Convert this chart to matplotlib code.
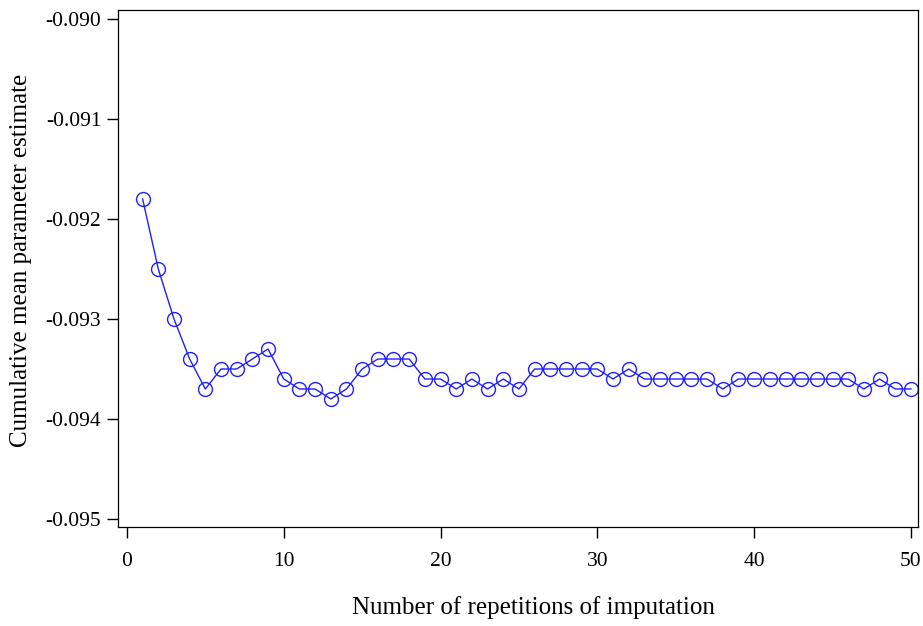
import matplotlib
matplotlib.use("Agg")
from matplotlib import pyplot as plt

# 数据
reps = list(range(1, 51))
cum_mean = [
    -0.0918, -0.0925, -0.0930, -0.0934, -0.0937, -0.0935, -0.0935, -0.0934, -0.0933, -0.0936,
    -0.0937, -0.0937, -0.0938, -0.0937, -0.0935, -0.0934, -0.0934, -0.0934, -0.0936, -0.0936,
    -0.0937, -0.0936, -0.0937, -0.0936, -0.0937, -0.0935, -0.0935, -0.0935, -0.0935, -0.0935,
    -0.0936, -0.0935, -0.0936, -0.0936, -0.0936, -0.0936, -0.0936, -0.0937, -0.0936, -0.0936,
    -0.0936, -0.0936, -0.0936, -0.0936, -0.0936, -0.0936, -0.0937, -0.0936, -0.0937, -0.0937,
]
x_ticks = [0, 10, 20, 30, 40, 50]
y_ticks = [-0.095, -0.094, -0.093, -0.092, -0.091, -0.090]

plt.rcParams['font.family'] = ['Liberation Serif', 'DejaVu Serif']

fig = plt.figure(figsize=(9.23, 6.26), dpi=100)
ax = fig.add_axes([118 / 923, 1 - 527 / 626, 800 / 923, 517 / 626])

ax.plot(reps, cum_mean, color='#1f1fff', linewidth=1.0, marker='o',
        markersize=10, markerfacecolor='none', markeredgecolor='#1f1fff',
        markeredgewidth=1.0)

ax.set_xlim(-0.57, 50.45)
ax.set_ylim(-0.09508, -0.08991)
ax.set_xticks(x_ticks)
ax.set_yticks(y_ticks)
ax.set_yticklabels(["%.3f" % v for v in y_ticks])
ax.tick_params(axis='both', direction='out', labelsize=15.5, length=8, width=1)
ax.tick_params(axis='x', pad=10)
ax.tick_params(axis='y', pad=4)

for s in ax.spines.values():
    s.set_linewidth(0.9)

ax.set_xlabel("Number of repetitions of imputation", fontsize=18, labelpad=18)
ax.set_ylabel("Cumulative mean parameter estimate", fontsize=18, labelpad=10)
# 标签位置稍微偏移
ax.xaxis.label.set_x(0.519)
ax.yaxis.label.set_y(0.516)

plt.savefig("out.png", dpi=100)
